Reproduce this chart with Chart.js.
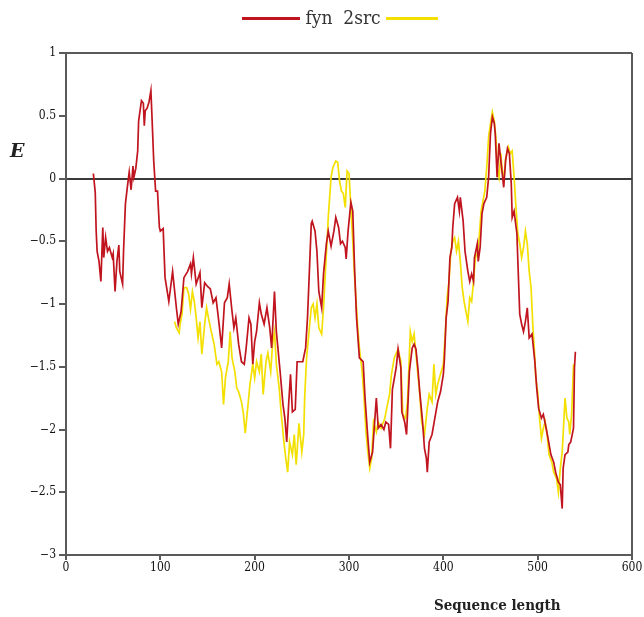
<!DOCTYPE html>
<html>
<head>
  <meta charset="utf-8">
  <title>fyn 2src</title>
  <script src="https://cdn.jsdelivr.net/npm/chart.js@4.4.1/dist/chart.umd.min.js"></script>
<style>
body{
	margin: 0;
	background: #fff;
}
#wrap{
	position: relative;
	width: 644px;
	height: 617px;
}
#legend{
	position: absolute;
	top: 6px;
	left: 242px;
	font-family: "DejaVu Serif Condensed", "DejaVu Serif", serif;
	font-size: 19px;
	color: #333;
	white-space: nowrap;
}
#legend .ln{
	display: inline-block;
	height: 3px;
	vertical-align: middle;
	margin-top: -2px;
}
#yTitle{
	position: absolute;
	left: 10px;
	top: 139px;
	font-family: "DejaVu Serif", serif;
	font-weight: bold;
	font-style: italic;
	font-size: 19px;
	color: #222;
}
#xTitle{
	position: absolute;
	left: 434px;
	top: 596px;
	font-family: "DejaVu Serif Condensed", "DejaVu Serif", serif;
	font-weight: bold;
	font-size: 15px;
	color: #222;
}
</style>
</head>
<body>
<div id="wrap">
  <canvas id="chart" width="644" height="617"></canvas>
  <!--legend: line, names, line-->
  <div id="legend"><span class="ln" style="width:58px;background:#c0141e"></span> fyn&nbsp; 2src <span class="ln" style="width:52px;background:#f3e000"></span></div>
  <div id="yTitle">E</div>
  <div id="xTitle">Sequence length</div>
</div>

<script>
//////////////// data ////////////////
var fynX = [29,31,32,33,35,37,39,40,42,44,46,49,50,52,54,56,57,60,61,63,65,67,69,71,72,74,76,77,80,82,83,84,86,88,90,91,93,95,97,99,
  100,103,105,109,113,117,119,122,125,129,132,133,135,138,142,144,147,150,153,156,159,162,165,168,171,173,176,178,180,183,186,189,191,194,196,198,
  200,202,205,207,210,213,216,218,221,223,227,230,232,234,236,238,240,243,245,247,251,254,256,258,260,261,264,266,268,271,273,276,278,281,284,286,289,291,293,296,297,299,
  302,304,306,308,311,315,317,320,322,325,327,329,331,334,337,339,342,344,346,350,352,355,356,359,361,362,364,367,369,371,373,375,377,378,380,382,383,385,388,391,394,397,
  400,401,403,405,407,409,410,412,415,417,418,421,423,426,428,430,432,433,436,437,439,441,443,446,448,450,452,454,455,457,459,461,464,466,468,470,472,473,475,478,479,481,483,485,487,489,491,494,497,499,
  501,504,506,509,511,514,517,519,522,524,526,527,529,532,533,535,538,539,540];
var fynE = [0.04,-0.11,-0.42,-0.58,-0.66,-0.82,-0.39,-0.63,-0.47,-0.58,-0.55,-0.63,-0.60,-0.90,-0.66,-0.53,-0.74,-0.84,-0.58,-0.20,-0.07,0.05,-0.09,0.10,0.01,0.08,0.22,0.46,0.62,0.60,0.42,0.54,0.56,0.61,0.70,0.52,0.14,-0.10,-0.10,-0.39,
  -0.42,-0.40,-0.79,-0.98,-0.74,-1.03,-1.16,-1.06,-0.79,-0.74,-0.68,-0.76,-0.63,-0.84,-0.75,-1.03,-0.83,-0.86,-0.88,-0.99,-0.95,-1.14,-1.35,-0.99,-0.95,-0.84,-1.06,-1.19,-1.11,-1.32,-1.46,-1.48,-1.35,-1.11,-1.16,-1.48,
  -1.30,-1.22,-0.99,-1.08,-1.16,-1.03,-1.19,-1.35,-0.90,-1.22,-1.54,-1.80,-1.91,-2.10,-1.80,-1.56,-1.86,-1.84,-1.46,-1.46,-1.46,-1.35,-1.11,-0.74,-0.36,-0.34,-0.42,-0.58,-0.90,-1.03,-0.76,-0.52,-0.42,-0.54,-0.42,-0.31,-0.39,-0.52,-0.50,-0.55,-0.64,-0.42,
  -0.19,-0.26,-0.74,-1.11,-1.43,-1.46,-1.75,-2.07,-2.26,-2.18,-1.96,-1.75,-1.99,-1.96,-2.00,-1.94,-1.96,-2.15,-1.68,-1.51,-1.36,-1.51,-1.86,-1.94,-2.04,-1.88,-1.54,-1.35,-1.32,-1.36,-1.51,-1.70,-1.86,-1.94,-2.15,-2.23,-2.34,-2.10,-2.04,-1.91,-1.78,-1.70,
  -1.56,-1.46,-1.11,-0.98,-0.63,-0.55,-0.39,-0.20,-0.15,-0.26,-0.15,-0.34,-0.58,-0.74,-0.82,-0.76,-0.82,-0.63,-0.52,-0.66,-0.55,-0.28,-0.20,-0.15,0.01,0.36,0.49,0.44,0.36,0.01,0.28,0.14,-0.07,0.14,0.24,0.20,-0.04,-0.31,-0.26,-0.44,-0.66,-1.08,-1.16,-1.22,-1.14,-1.03,-1.27,-1.24,-1.46,-1.67,
  -1.83,-1.91,-1.88,-1.99,-2.07,-2.20,-2.26,-2.34,-2.42,-2.44,-2.63,-2.31,-2.20,-2.18,-2.12,-2.10,-1.99,-1.51,-1.38];

var srcX = [115,117,120,121,123,125,128,130,132,134,136,138,140,142,144,147,149,151,154,157,160,162,165,167,169,172,174,176,179,181,183,186,188,190,193,195,198,
  200,202,205,207,209,212,214,217,219,221,223,226,228,231,233,235,237,240,242,244,247,250,252,253,255,257,260,262,264,266,268,271,273,275,277,278,281,283,286,288,290,292,294,296,298,
  300,302,304,306,309,311,314,316,318,320,322,324,326,329,331,334,338,340,343,345,348,352,355,357,360,362,365,367,369,371,375,377,380,383,385,388,390,392,394,397,
  400,402,404,406,408,410,412,414,416,418,420,422,424,426,428,430,432,434,436,438,440,442,444,446,448,450,452,454,456,457,459,461,462,464,466,469,471,473,475,477,479,481,483,485,487,489,491,493,495,497,498,
  500,502,504,506,508,510,512,515,517,520,522,524,526,527,529,531,533,534,536,538];
var srcE = [-1.14,-1.19,-1.23,-1.16,-1.08,-0.87,-0.87,-0.92,-1.04,-0.90,-0.98,-1.11,-1.27,-1.14,-1.40,-1.16,-1.03,-1.11,-1.22,-1.32,-1.48,-1.46,-1.54,-1.80,-1.59,-1.46,-1.22,-1.43,-1.54,-1.67,-1.70,-1.78,-1.87,-2.03,-1.80,-1.64,-1.48,
  -1.59,-1.46,-1.54,-1.40,-1.72,-1.46,-1.39,-1.54,-1.32,-1.22,-1.48,-1.67,-1.86,-2.10,-2.23,-2.34,-2.10,-2.20,-2.04,-2.28,-1.95,-2.18,-2.04,-1.75,-1.43,-1.27,-1.03,-1.00,-1.11,-1.00,-1.19,-1.24,-1.03,-0.74,-0.47,-0.31,0.01,0.09,0.14,0.13,-0.02,-0.10,-0.12,-0.23,0.06,
  0.04,-0.23,-0.50,-0.79,-1.16,-1.35,-1.54,-1.75,-2.02,-2.18,-2.31,-2.23,-1.94,-2.02,-1.94,-1.99,-1.91,-1.83,-1.72,-1.56,-1.43,-1.36,-1.46,-1.88,-1.91,-1.78,-1.22,-1.30,-1.24,-1.40,-1.72,-1.94,-2.04,-1.83,-1.72,-1.78,-1.48,-1.72,-1.64,-1.56,
  -1.48,-1.24,-0.95,-0.82,-0.58,-0.50,-0.47,-0.58,-0.50,-0.66,-0.87,-0.98,-1.06,-1.14,-0.95,-0.98,-0.82,-0.63,-0.60,-0.47,-0.26,-0.18,-0.10,0.09,0.33,0.44,0.53,0.46,0.30,0.09,0.01,0.20,0.09,-0.02,0.16,0.25,0.20,0.22,0.01,-0.23,-0.44,-0.52,-0.63,-0.55,-0.42,-0.52,-0.74,-0.87,-1.19,-1.43,-1.59,
  -1.70,-1.91,-2.07,-1.99,-1.94,-2.04,-2.20,-2.26,-2.34,-2.39,-2.50,-2.31,-2.18,-2.04,-1.75,-1.91,-1.94,-2.04,-1.88,-1.48];

var xTicks = [0,100,200,300,400,500,600];
var yTicks = [1,0.5,0,-0.5,-1,-1.5,-2,-2.5,-3];
//////////////// data ////////////////

function toPoints(xs, ys){
  var pts = [];
  for (var i = 0; i < xs.length; i++)
    pts.push({x: xs[i], y: ys[i]});
  return pts;
}

//plain labels: 1, 0.5, 0, −0.5 ...
function tickLabel(v){
  return v < 0 ? "\u2212" + String(-v) : String(v);
}

var tickFont = {family: "'DejaVu Serif Condensed', 'DejaVu Serif', serif", size: 12};
var frameColor = "#5a5a5a";

var ctx = document.getElementById("chart").getContext("2d");
var myChart = new Chart(ctx, {
  type: "scatter",
  data: {
    datasets: [
      {
        label: "fyn",
        data: toPoints(fynX, fynE),
        showLine: true,
        borderColor: "#c0141e",
        borderWidth: 1.7,
        pointRadius: 0,
        tension: 0
      },
      {
        label: "2src",
        data: toPoints(srcX, srcE),
        showLine: true,
        borderColor: "#f3e000",
        borderWidth: 1.7,
        pointRadius: 0,
        tension: 0
      }
    ]
  },
  options: {
    responsive: false,
    animation: false,
    layout: {padding: {left: 0, top: 53, right: 12, bottom: 0}},
    plugins: {
      legend: {display: false},
      tooltip: {enabled: false}
    },
    scales: {
      x: {
        type: "linear",
        min: 0,
        max: 600,
        afterFit: function(scale){ scale.height = 62; },
        afterBuildTicks: function(scale){
          scale.ticks = xTicks.map(function(v){ return {value: v}; });
        },
        border: {display: true, color: frameColor, width: 2},
        grid: {
          drawOnChartArea: true,
          color: function(c){ return c.tick && c.tick.value === 600 ? frameColor : "rgba(0,0,0,0)"; },
          lineWidth: 2,
          tickColor: frameColor,
          tickLength: 5
        },
        ticks: {color: "#111", font: tickFont, padding: 1, maxRotation: 0,
                callback: function(v){ return tickLabel(v); }}
      },
      y: {
        min: -3,
        max: 1,
        afterFit: function(scale){ scale.width = 66; },
        afterBuildTicks: function(scale){
          scale.ticks = yTicks.map(function(v){ return {value: v}; });
        },
        border: {display: true, color: frameColor, width: 2},
        grid: {
          color: function(c){
            if (!c.tick) return "rgba(0,0,0,0)";
            if (c.tick.value === 0) return "#3a3a3a";
            if (c.tick.value === 1) return frameColor;
            return "rgba(0,0,0,0)";
          },
          lineWidth: 2,
          tickColor: frameColor,
          tickLength: 7
        },
        ticks: {color: "#111", font: tickFont, padding: 3,
                callback: function(v){ return tickLabel(v); }}
      }
    }
  }
});
</script>
</body>
</html>
